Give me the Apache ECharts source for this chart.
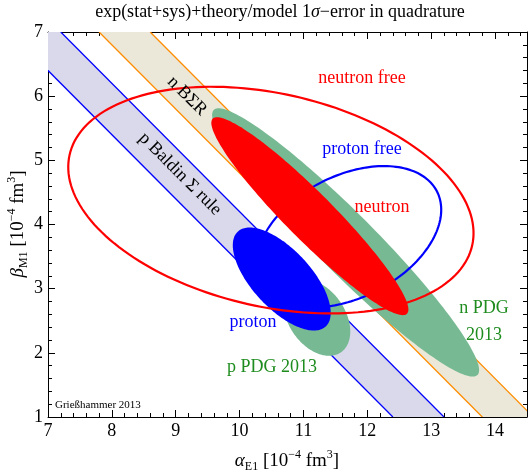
<!DOCTYPE html>
<html>
<head>
<meta charset="utf-8">
<script src="https://cdn.jsdelivr.net/npm/echarts@6/dist/echarts.min.js"></script>
<style>
html,body{margin:0;padding:0;background:#fff}
#main{width:530px;height:471px}
</style>
</head>
<body>
<div id="main"></div>
<script>
//axis ranges + tick labels
var xMin = 7, xMax = 14.5, yMin = 1, yMax = 7;
var xTickLabels = [7, 8, 9, 10, 11, 12, 13, 14];
var yTickLabels = [1, 2, 3, 4, 5, 6, 7];

/********** Baldin sum rule bands (alpha+beta from..to) ********** */
var bandNames = ["p Baldin", "n BSR"];
var bandLow = [13.4, 14.8];
var bandHigh = [14.2, 15.6];

/********** ellipses: centre, half axes, tilt in degrees ********** */
var ellNames = ["n PDG 2013", "p PDG 2013", "proton free", "neutron", "proton", "neutron free"];
var ellAlpha = [11.66, 11.21, 11.71, 11.10, 10.66, 10.49];
var ellBeta = [3.72, 2.55, 3.81, 4.13, 3.15, 4.38];
var ellA = [2.92, 0.66, 1.55, 2.15, 1.01, 3.23];
var ellB = [0.46, 0.44, 0.95, 0.37, 0.46, 1.66];
var ellTilt = [-45, -55, 27, -45, -47, -12.6];

var serif = "Liberation Serif";

function bandRender(fill, stroke){
    return function(params, api){
        var lo = api.value(0), hi = api.value(1);
        var p1 = api.coord([lo - yMax, yMax]), p2 = api.coord([hi - yMax, yMax]);
        var p3 = api.coord([hi - yMin, yMin]), p4 = api.coord([lo - yMin, yMin]);
        var cs = params.coordSys;
        return {
            type : "group",
            clipPath : {type : "rect", shape : {x : cs.x, y : cs.y, width : cs.width, height : cs.height}},
            children : [
                {type : "polygon", shape : {points : [p1, p2, p3, p4]}, style : {fill : fill}},
                {type : "line", shape : {x1 : p1[0], y1 : p1[1], x2 : p4[0], y2 : p4[1]}, style : {stroke : stroke, lineWidth : 1.3}},
                {type : "line", shape : {x1 : p2[0], y1 : p2[1], x2 : p3[0], y2 : p3[1]}, style : {stroke : stroke, lineWidth : 1.3}}
            ]
        };
    };
}

function ellRender(fill, stroke, lw){
    return function(params, api){
        var cx = api.value(0), cy = api.value(1), a = api.value(2), b = api.value(3);
        var t = api.value(4) * Math.PI / 180;
        var pts = [];
        for(var k = 0; k < 180; k++){
            var s = k / 180 * 2 * Math.PI;
            var u = a * Math.cos(s), v = b * Math.sin(s);
            pts.push(api.coord([cx + u * Math.cos(t) - v * Math.sin(t), cy + u * Math.sin(t) + v * Math.cos(t)]));
        }
        return {
            type : "polygon",
            shape : {points : pts},
            style : {fill : fill, stroke : stroke, lineWidth : lw}
        };
    };
}

function bandSeries(i, fill, stroke){
    return {
        name : bandNames[i], type : "custom", clip : true,
        renderItem : bandRender(fill, stroke),
        data : [[bandLow[i], bandHigh[i]]]
    };
}

function ellSeries(i, fill, stroke, lw){
    return {
        name : ellNames[i], type : "custom",
        renderItem : ellRender(fill, stroke, lw),
        data : [[ellAlpha[i], ellBeta[i], ellA[i], ellB[i], ellTilt[i]]]
    };
}

function majorAxis(pos, isX, showLabel){
    return {
        type : "value", position : pos,
        min : isX ? xMin : yMin, max : isX ? xMax : yMax, interval : 1,
        axisLine : {show : true, onZero : false, lineStyle : {color : "#000", width : 1}},
        axisTick : {show : true, inside : true, length : 7, lineStyle : {color : "#000"}},
        splitLine : {show : false},
        axisLabel : {
            show : showLabel, fontFamily : serif, fontSize : 18, color : "#000", margin : 5,
            showMaxLabel : true,
            formatter : function(v){
                var list = isX ? xTickLabels : yTickLabels;
                return list.indexOf(v) >= 0 ? String(v) : "";
            }
        }
    };
}

function minorAxis(pos, isX){
    return {
        type : "value", position : pos,
        min : isX ? xMin : yMin, max : isX ? xMax : yMax, interval : 0.2,
        axisLine : {show : false, onZero : false},
        axisTick : {show : true, inside : true, length : 4, lineStyle : {color : "#000"}},
        splitLine : {show : false},
        axisLabel : {show : false}
    };
}

function label(txt, x, y, color, rot){
    return {
        type : "text", x : x, y : y, z : 100, rotation : rot || 0,
        style : {text : txt, fontFamily : serif, fontSize : 18, fill : color, align : "center", verticalAlign : "middle"}
    };
}

var nameRich = {
    n : {fontFamily : serif, fontSize : 19, lineHeight : 24, fill : "#000"},
    i : {fontFamily : serif, fontSize : 19, lineHeight : 24, fontStyle : "italic", fill : "#000"},
    sub : {fontFamily : serif, fontSize : 12, lineHeight : 24, verticalAlign : "bottom", fill : "#000"},
    sup : {fontFamily : serif, fontSize : 12, lineHeight : 24, verticalAlign : "top", fill : "#000"}
};

var myChart = echarts.init(document.getElementById("main"));

var option = {
    backgroundColor : "#fff",
    animation : false,
    grid : {left : 48, right : 1, top : 32, bottom : 54},
    xAxis : [majorAxis("bottom", true, true), minorAxis("bottom", true), majorAxis("top", true, false), minorAxis("top", true)],
    yAxis : [majorAxis("left", false, true), minorAxis("left", false), majorAxis("right", false, false), minorAxis("right", false)],
    series : [
        bandSeries(0, "#d9d9eb", "#0000ff"),
        bandSeries(1, "#ebe8d9", "#ff8c00"),
        ellSeries(0, "#76b993", null, 0),
        ellSeries(1, "#76b993", null, 0),
        ellSeries(2, null, "#0000ff", 2.2),
        ellSeries(3, "#ff0000", null, 0),
        ellSeries(4, "#0000ff", null, 0),
        ellSeries(5, null, "#ff0000", 2.2)
    ],
    graphic : [
        {type : "text", x : 280, y : 12, z : 100, style : {
            text : "{n|exp(stat+sys)+theory/model 1}{i|σ}{n|−error in quadrature}",
            align : "center", verticalAlign : "middle",
            rich : {n : {fontFamily : serif, fontSize : 18, fill : "#000"}, i : {fontFamily : serif, fontSize : 18, fontStyle : "italic", fill : "#000"}}
        }},
        {type : "text", x : 287, y : 461, z : 100, style : {
            text : "{i|α}{sub|E1}{n| [10}{sup|−4}{n| fm}{sup|3}{n|]}",
            align : "center", verticalAlign : "middle", rich : nameRich
        }},
        {type : "text", x : 18, y : 224, z : 100, rotation : Math.PI / 2, style : {
            text : "{i|β}{sub|M1}{n| [10}{sup|−4}{n| fm}{sup|3}{n|]}",
            align : "center", verticalAlign : "middle", rich : nameRich
        }},
        label("neutron free", 362, 78, "#ff0000"),
        label("proton free", 362, 149, "#0000ff"),
        label("neutron", 382, 207, "#ff0000"),
        label("proton", 253, 322, "#0000ff"),
        label("p PDG 2013", 272, 367, "#1e8c1e"),
        label("n PDG", 484, 308, "#1e8c1e"),
        label("2013", 484, 335, "#1e8c1e"),
        label("n BΣR", 187, 96, "#000", -Math.PI / 4),
        label("p Baldin Σ rule", 180, 174, "#000", -Math.PI / 4),
        {type : "text", x : 55, y : 405, z : 100, style : {text : "Grießhammer 2013", fontFamily : serif, fontSize : 11, fill : "#000", align : "left", verticalAlign : "middle"}}
    ]
};

myChart.setOption(option);
</script>
</body>
</html>
